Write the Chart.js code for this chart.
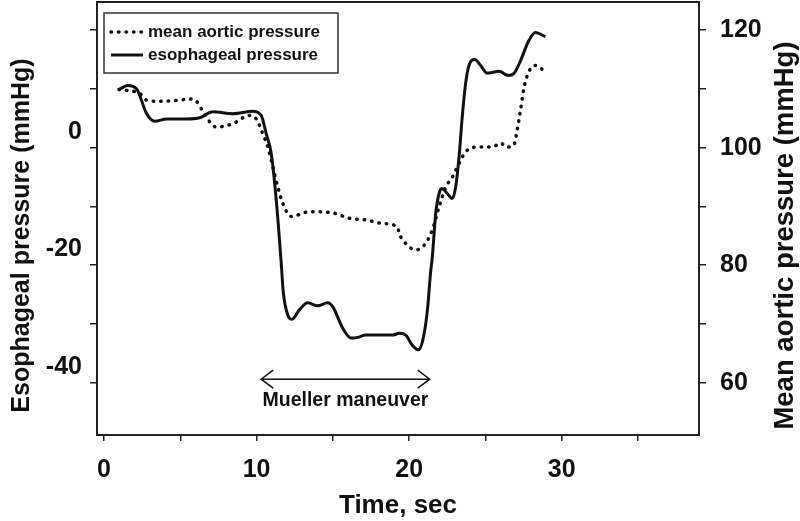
<!DOCTYPE html>
<html>
<head>
<meta charset="utf-8">
<title>Mueller maneuver</title>
<script src="https://cdn.jsdelivr.net/npm/chart.js@4.4.1/dist/chart.umd.min.js"></script>
<style>
    html, body { margin: 0; padding: 0; background: #fff; }
    #wrap { position: relative; width: 800px; height: 521px; }
</style>
</head>
<body>
<div id="wrap"><canvas id="pressure"></canvas></div>
<script>
// time axis (sec) for each trace
var esoTime = [0.98, 1.55, 2.14, 2.79, 3.33, 4.1, 5.4, 6.27, 7.14, 8.45,
    9.76, 10.3, 10.63, 10.96, 11.29, 11.6, 11.76, 12.05, 12.33, 12.8,
    13.35, 14.0, 14.66, 15.0, 15.64, 16.19, 16.6, 17.17, 18.26, 18.9,
    19.35, 19.78, 20.2, 20.59, 20.9, 21.2, 21.4, 21.52, 21.74, 21.96,
    22.14, 22.5, 22.83, 23.05, 23.27, 23.48, 23.7, 23.92, 24.3, 24.69,
    25.1, 25.9, 26.5, 26.86, 27.3, 27.84, 28.28, 28.93];
var esoPressure = [9.9, 10.6, 10.0, 5.8, 4.5, 4.9, 4.9, 5.1, 6.1, 5.8,
    6.2, 5.5, 2.4, -1.0, -8.9, -19.1, -24.8, -28.5, -29.2, -27.6,
    -26.4, -26.9, -26.4, -27.1, -30.7, -32.4, -32.3, -31.9, -31.9, -31.9,
    -31.6, -31.9, -33.6, -34.4, -32.7, -27.6, -21.4, -18.6, -11.2, -7.8,
    -6.95, -7.8, -8.65, -6.7, -1.6, 5.2, 10.9, 14.0, 15.0, 14.0,
    12.7, 13.0, 12.3, 12.6, 14.8, 18.2, 19.6, 18.9];

var aorticTime = [0.98, 2.35, 2.79, 3.66, 4.97, 5.6, 6.06, 6.39, 6.93, 7.37,
    8.45, 9.54, 9.98, 10.4, 10.74, 11.07, 11.39, 11.72, 12.27, 13.46,
    14.99, 16.08, 17.17, 18.26, 19.24, 19.35, 19.78, 20.44, 20.98, 21.52,
    21.96, 22.4, 22.83, 23.27, 23.7, 24.36, 25.45, 26.0, 26.4, 26.86,
    27.08, 27.3, 27.5, 27.84, 28.28, 28.93];
var aorticPressure = [109.9, 109.2, 108.1, 107.9, 108.1, 108.3, 107.9, 106.6, 104.4, 103.5,
    104.1, 105.5, 104.9, 102.4, 100.1, 96.7, 93.3, 90.5, 88.3, 89.1,
    88.9, 88.0, 87.7, 87.1, 86.5, 85.4, 83.7, 82.6, 83.4, 86.0,
    89.9, 93.3, 95.0, 97.3, 99.3, 100.1, 100.1, 100.8, 100.1, 100.4,
    103.0, 106.4, 109.8, 112.9, 114.0, 112.9];

var seriesLabels = ['mean aortic pressure', 'esophageal pressure'];
var xTickLabels = [0, 10, 20, 30];
var leftTickLabels = [0, -20, -40];
var rightTickLabels = [60, 80, 100, 120];
var leftTitle = 'Esophageal pressure (mmHg)';
var rightTitle = 'Mean aortic pressure (mmHg)';

// maneuver window (sec) and the level it is marked at (esophageal mmHg)
var maneuverLabel = 'Mueller maneuver';
var maneuverSpan = [10.3, 21.35];
var maneuverLevel = -39.4;

(function () {
    'use strict';

    var FONT = '"Liberation Sans", Arial, sans-serif';
    var INK = '#111';

    function points(xs, ys) {
        return xs.map(function (x, i) { return {x: x, y: ys[i]}; });
    }

    function fixWidth(w) {
        return function (s) {
            s.width = w;
            s.paddingTop = 0;
            s.paddingBottom = 0;
        };
    }

    var frame = {
        id: 'frame',
        afterDraw: function (chart) {
            var ctx = chart.ctx;
            var a = chart.chartArea;
            ctx.save();
            ctx.strokeStyle = '#222';
            ctx.lineWidth = 2;
            ctx.strokeRect(a.left, a.top, a.right - a.left, a.bottom - a.top);
            ctx.restore();
        }
    };

    // both y titles read bottom-to-top, a little below the axis middle
    function drawTitle(ctx, text, x, y, size) {
        ctx.save();
        ctx.translate(x, y);
        ctx.rotate(-Math.PI / 2);
        ctx.fillStyle = INK;
        ctx.font = 'bold ' + size + 'px ' + FONT;
        ctx.textAlign = 'center';
        ctx.textBaseline = 'middle';
        ctx.fillText(text, 0, 0);
        ctx.restore();
    }

    var sideTitles = {
        id: 'sideTitles',
        afterDraw: function (chart) {
            var a = chart.chartArea;
            var mid = (a.top + a.bottom) / 2 + 17;
            drawTitle(chart.ctx, leftTitle, 22, mid, 25);
            drawTitle(chart.ctx, rightTitle, chart.width - 15, mid, 27.5);
        }
    };

    // legend sits inside the plot, boxed
    var boxedLegend = {
        id: 'boxedLegend',
        afterDraw: function (chart) {
            var ctx = chart.ctx;
            var a = chart.chartArea;
            var x0 = a.left + 7, y0 = a.top + 11;
            ctx.save();
            ctx.fillStyle = '#fff';
            ctx.fillRect(x0, y0, 234, 60);
            ctx.strokeStyle = '#333';
            ctx.lineWidth = 1.5;
            ctx.strokeRect(x0, y0, 234, 60);

            chart.data.datasets.forEach(function (ds, i) {
                var ly = y0 + 19 + i * 23;
                ctx.beginPath();
                ctx.strokeStyle = ds.borderColor;
                ctx.lineWidth = ds.borderWidth;
                ctx.lineCap = ds.borderCapStyle || 'butt';
                ctx.setLineDash(ds.borderDash || []);
                ctx.moveTo(x0 + 7, ly);
                ctx.lineTo(x0 + 39, ly);
                ctx.stroke();
                ctx.setLineDash([]);
                ctx.fillStyle = INK;
                ctx.font = 'bold 17px ' + FONT;
                ctx.textBaseline = 'middle';
                ctx.textAlign = 'left';
                ctx.fillText(ds.label, x0 + 44, ly);
            });
            ctx.restore();
        }
    };

    var maneuver = {
        id: 'maneuver',
        afterDraw: function (chart) {
            var ctx = chart.ctx;
            var xs = chart.scales.x, ys = chart.scales.yEso;
            var x1 = xs.getPixelForValue(maneuverSpan[0]);
            var x2 = xs.getPixelForValue(maneuverSpan[1]);
            var y = ys.getPixelForValue(maneuverLevel);
            ctx.save();
            ctx.strokeStyle = INK;
            ctx.lineWidth = 1.5;
            ctx.beginPath();
            ctx.moveTo(x1, y);
            ctx.lineTo(x2, y);
            ctx.moveTo(x1 + 12, y - 9);
            ctx.lineTo(x1, y);
            ctx.lineTo(x1 + 12, y + 9);
            ctx.moveTo(x2 - 12, y - 9);
            ctx.lineTo(x2, y);
            ctx.lineTo(x2 - 12, y + 9);
            ctx.stroke();
            ctx.fillStyle = INK;
            ctx.font = 'bold 19.5px ' + FONT;
            ctx.textAlign = 'center';
            ctx.textBaseline = 'middle';
            ctx.fillText(maneuverLabel, (x1 + x2) / 2, y + 21);
            ctx.restore();
        }
    };

    new Chart(document.getElementById('pressure'), {
        type: 'line',
        data: {
            datasets: [
                {
                    label: seriesLabels[0],
                    data: points(aorticTime, aorticPressure),
                    yAxisID: 'yAortic',
                    borderColor: INK,
                    borderWidth: 3.5,
                    borderDash: [0.5, 7],
                    borderCapStyle: 'round',
                    pointRadius: 0,
                    cubicInterpolationMode: 'monotone',
                    fill: false
                },
                {
                    label: seriesLabels[1],
                    data: points(esoTime, esoPressure),
                    yAxisID: 'yEso',
                    borderColor: INK,
                    borderWidth: 3,
                    pointRadius: 0,
                    cubicInterpolationMode: 'monotone',
                    fill: false
                }
            ]
        },
        options: {
            responsive: true,
            maintainAspectRatio: false,
            animation: false,
            layout: {padding: {top: 2, left: 0, right: 0, bottom: 0}},
            plugins: {
                legend: {display: false},
                tooltip: {enabled: false}
            },
            scales: {
                x: {
                    type: 'linear',
                    min: -0.46,
                    max: 39,
                    afterFit: function (s) {
                        s.height = 86;
                        s.paddingLeft = 0;
                        s.paddingRight = 0;
                    },
                    border: {display: false},
                    grid: {drawOnChartArea: false, tickLength: 6, tickColor: '#222', lineWidth: 1.5},
                    ticks: {
                        stepSize: 5,
                        includeBounds: false,
                        autoSkip: false,
                        maxRotation: 0,
                        padding: 14,
                        color: INK,
                        font: {family: FONT, size: 25, weight: 'bold'},
                        callback: function (v) { return xTickLabels.indexOf(v) >= 0 ? String(v) : ''; }
                    },
                    title: {
                        display: true,
                        text: 'Time, sec',
                        color: INK,
                        font: {family: FONT, size: 26, weight: 'bold'},
                        padding: {top: 5, bottom: 0}
                    }
                },
                yEso: {
                    type: 'linear',
                    position: 'left',
                    min: -48.9,
                    max: 24.8,
                    afterFit: fixWidth(97),
                    border: {display: false},
                    grid: {drawOnChartArea: false, tickLength: 7, tickColor: '#222', lineWidth: 1.5},
                    ticks: {
                        stepSize: 10,
                        includeBounds: false,
                        autoSkip: false,
                        padding: 8,
                        labelOffset: -16,
                        color: INK,
                        font: {family: FONT, size: 25, weight: 'bold'},
                        callback: function (v) { return leftTickLabels.indexOf(v) >= 0 ? String(v) : ''; }
                    }
                },
                yAortic: {
                    type: 'linear',
                    position: 'right',
                    min: 51.1,
                    max: 124.8,
                    afterFit: fixWidth(101),
                    border: {display: false},
                    grid: {drawOnChartArea: false, tickLength: 7, tickColor: '#222', lineWidth: 1.5},
                    ticks: {
                        stepSize: 10,
                        includeBounds: false,
                        autoSkip: false,
                        padding: 14,
                        color: INK,
                        font: {family: FONT, size: 25, weight: 'bold'},
                        callback: function (v) { return rightTickLabels.indexOf(v) >= 0 ? String(v) : ''; }
                    }
                }
            }
        },
        plugins: [frame, sideTitles, boxedLegend, maneuver]
    });
})();
</script>
</body>
</html>
